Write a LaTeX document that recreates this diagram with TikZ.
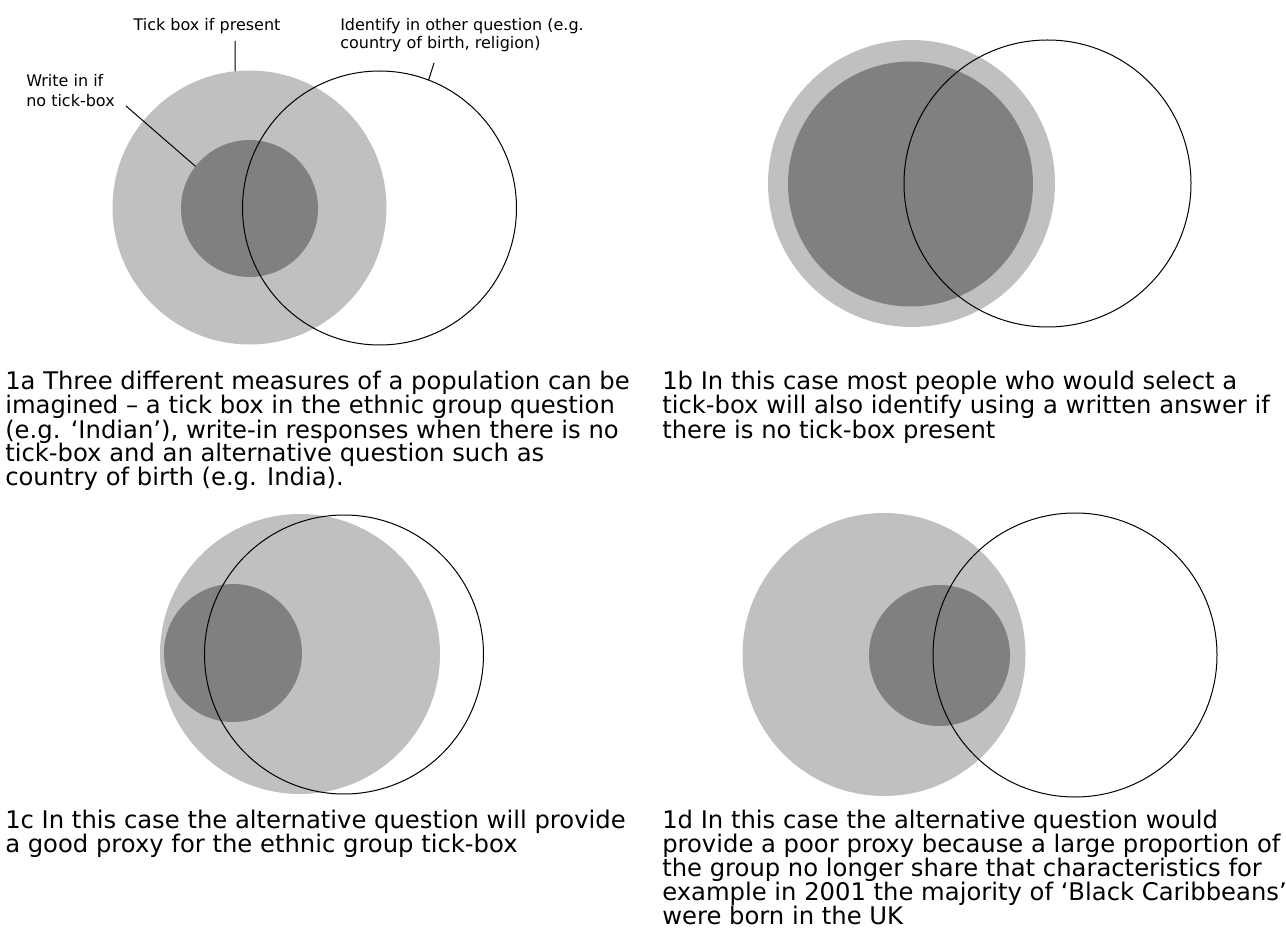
\documentclass[tikz,border=0pt]{standalone}
\usepackage{fontspec}
\setmainfont{DejaVu Sans}
\definecolor{lightg}{HTML}{C0C0C0}
\definecolor{darkg}{HTML}{808080}
\tikzset{
  tickcirc/.style={circle, fill=lightg, inner sep=0pt, outer sep=0pt, minimum size=#1},
  writecirc/.style={circle, fill=darkg, inner sep=0pt, outer sep=0pt, minimum size=#1},
  altcirc/.style={circle, draw=black, line width=0.75pt, inner sep=0pt, outer sep=0pt, minimum size=#1},
  captxt/.style={anchor=base west, inner sep=0pt, font=\fontsize{18.2pt}{18pt}\selectfont},
  lbl/.style={inner sep=0pt, font=\fontsize{12pt}{13pt}\selectfont},
  leader/.style={draw=black, line width=0.75pt},
}
\newcommand{\textlines}[1]{\parbox[t]{640pt}{\lineskiplimit=-100pt\relax #1}}
\begin{document}
\begin{tikzpicture}[x=0.75pt,y=-0.75pt]
\useasboundingbox (0,0) rectangle (1286,941);

% ---- 1a ----
\node[tickcirc=205.5pt]  (g1a) at (249.5,207.5) {};
\node[writecirc=102.75pt] (d1a) at (249.5,208.5) {};
\node[altcirc=205.5pt]   (o1a) at (379.5,208) {};

\node[lbl, anchor=base] (tick) at (207,31) {Tick box if present};
\node[lbl, anchor=base west] (ident) at (340,31)
  {\textlines{Identify in other question (e.g.\\country of birth, religion)}};
\node[lbl, anchor=base west, font=\fontsize{12pt}{15pt}\selectfont] (write) at (26,87)
  {\textlines{Write in if\\no tick-box}};

\coordinate (tickend) at (235,41);
\coordinate (identend) at (434,63);
\coordinate (writeend) at (126,106);
\draw[leader] (tickend) -- (g1a.96);
\draw[leader] (identend) -- (o1a.69.6);
\draw[leader] (writeend) -- (d1a.142.7);

\node[captxt] (cap1a) at (5,390) {\textlines{1a Three different measures of a population can be\\
imagined – a tick box in the ethnic group question\\
(e.g. ‘Indian’), write-in responses when there is no\\
tick-box and an alternative question such as\\
country of birth (e.g. India).}};

% ---- 1b ----
\node[tickcirc=215.25pt]  (g1b) at (911.5,183.5) {};
\node[writecirc=183.75pt] (d1b) at (910.5,184) {};
\node[altcirc=215.25pt]   (o1b) at (1047.5,183.5) {};

\node[captxt] (cap1b) at (662,390) {\textlines{1b In this case most people who would select a\\
tick-box will also identify using a written answer if\\
there is no tick-box present}};

% ---- 1c ----
\node[tickcirc=210pt]    (g1c) at (300,654) {};
\node[writecirc=103.5pt] (d1c) at (233,653) {};
\node[altcirc=209.25pt]  (o1c) at (344,654.5) {};

\node[captxt] (cap1c) at (5,828) {\textlines{1c In this case the alternative question will provide\\
a good proxy for the ethnic group tick-box}};

% ---- 1d ----
\node[tickcirc=212.25pt]  (g1d) at (884,654.5) {};
\node[writecirc=105.75pt] (d1d) at (939.5,655.5) {};
\node[altcirc=213pt]      (o1d) at (1075,655) {};

\node[captxt] (cap1d) at (662,828) {\textlines{1d In this case the alternative question would\\
provide a poor proxy because a large proportion of\\
the group no longer share that characteristics for\\
example in 2001 the majority of ‘Black Caribbeans’\\
were born in the UK}};
\end{tikzpicture}
\end{document}
